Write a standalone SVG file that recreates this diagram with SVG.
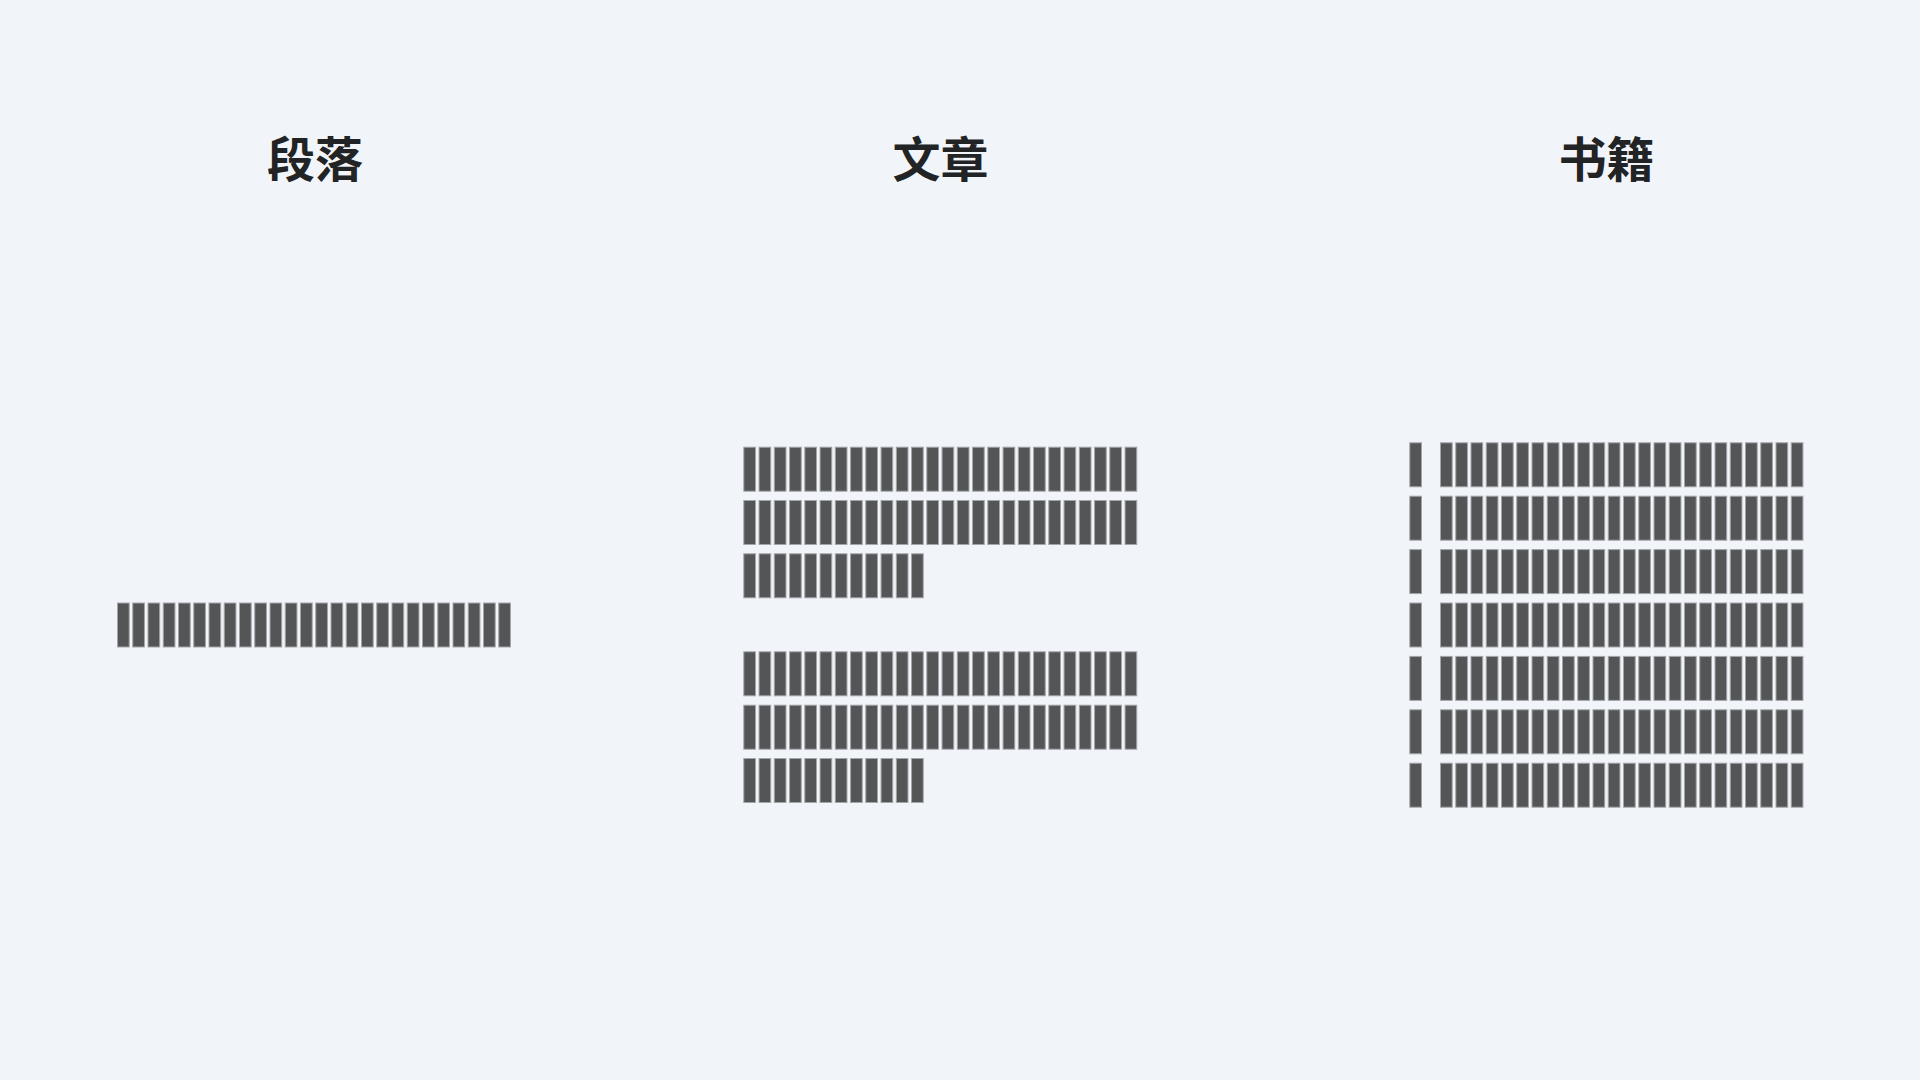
<svg xmlns="http://www.w3.org/2000/svg" xmlns:xlink="http://www.w3.org/1999/xlink" width="1920" height="1080" viewBox="0 0 1920 1080">
<style>
.title{font-family:"Noto Sans CJK SC","Noto Sans",sans-serif;font-weight:700;font-size:48px;fill:#222324;text-anchor:middle}
.bar{fill:#545557;stroke:#a3a6a9;stroke-width:1}
</style>
<defs>
<rect id="b" class="bar" x="0.5" y="0.5" width="11.7" height="44"/>
<g id="row12">
<use href="#b" x="0"/><use href="#b" x="15.25"/><use href="#b" x="30.5"/><use href="#b" x="45.75"/>
<use href="#b" x="61"/><use href="#b" x="76.25"/><use href="#b" x="91.5"/><use href="#b" x="106.75"/>
<use href="#b" x="122"/><use href="#b" x="137.25"/><use href="#b" x="152.5"/><use href="#b" x="167.75"/>
</g>
<g id="row24">
<use href="#row12"/><use href="#row12" x="183"/>
</g>
<g id="row26">
<use href="#row24"/><use href="#b" x="366"/><use href="#b" x="381.25"/>
</g>
</defs>
<rect width="1920" height="1080" fill="#f1f5f9"/>
<g id="paragraph">
<text class="title" x="315" y="176.5">段落</text>
<use href="#row26" x="117" y="602.5"/>
</g>
<g id="article">
<text class="title" x="940.5" y="176.5">文章</text>
<use href="#row26" x="743.3" y="446.7"/>
<use href="#row26" x="743.3" y="500"/>
<use href="#row12" x="743.3" y="553.3"/>
<use href="#row26" x="743.3" y="651.3"/>
<use href="#row26" x="743.3" y="704.7"/>
<use href="#row12" x="743.3" y="758"/>
</g>
<g id="book">
<text class="title" x="1606.5" y="176.5">书籍</text>
<g transform="translate(1409.3,442.3)">
<use href="#b" y="0"/><use href="#b" y="53.4"/><use href="#b" y="106.8"/><use href="#b" y="160.2"/><use href="#b" y="213.6"/><use href="#b" y="267"/><use href="#b" y="320.4"/>
</g>
<g transform="translate(1440,442.3)">
<use href="#row24" y="0"/><use href="#row24" y="53.4"/><use href="#row24" y="106.8"/><use href="#row24" y="160.2"/><use href="#row24" y="213.6"/><use href="#row24" y="267"/><use href="#row24" y="320.4"/>
</g>
</g>
<g id="connectors"/>
</svg>
